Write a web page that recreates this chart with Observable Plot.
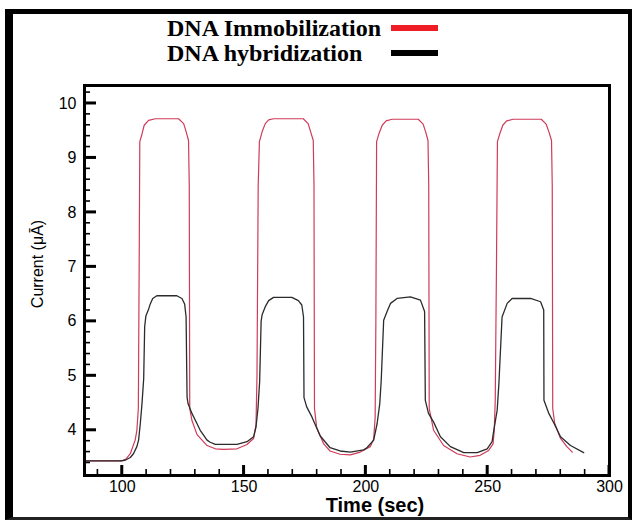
<!DOCTYPE html>
<html>
<head>
<meta charset="utf-8">
<script src="https://cdn.jsdelivr.net/npm/d3@7"></script>
<script src="https://cdn.jsdelivr.net/npm/@observablehq/plot@0.6"></script>
<style>
  html, body { margin: 0; padding: 0; background: #fff; }
  #wrap { position: relative; width: 633px; height: 524px; overflow: hidden; background: #fff; }
  #border { position: absolute; left: 5px; top: 9px; width: 627px; height: 511px; box-sizing: border-box; background: transparent; pointer-events: none;
            border-left: 8px solid #000; border-top: 5px solid #000; border-right: 4px solid #000; border-bottom: 3px solid #222; }
  #chart { position: absolute; left: 0; top: 0; }
  #legend { position: absolute; left: 167px; top: 16px; display: grid; grid-template-columns: auto 47px; column-gap: 10px;
            font-family: "Liberation Serif", "Times New Roman", serif; font-weight: bold; font-size: 24px; line-height: 25px; color: #000; }
  .bar { align-self: center; height: 6px; width: 47px; margin-top: -2px; }
  #ylab { position: absolute; left: 38px; top: 264px; transform: translate(-50%, -50%) rotate(-90deg); white-space: nowrap;
          font-family: "Liberation Sans", Arial, sans-serif; font-size: 16px; color: #000; }
  #xlab { position: absolute; left: 375px; top: 495px; transform: translateX(-50%); white-space: nowrap;
          font-family: "Liberation Sans", Arial, sans-serif; font-weight: bold; font-size: 20px; line-height: 20px; color: #000; }
</style>
</head>
<body>
<div id="wrap">
  <div id="chart"></div>
  <div id="border"></div>
  <div id="legend"></div>
  <div id="ylab">Current (μĀ)</div>
  <div id="xlab">Time (sec)</div>
</div>
<script>
// ---- Data ----
const seriesNames = ["DNA Immobilization", "DNA hybridization"];
const seriesColors = ["#cf3b58", "#2b2b2b"];
const legendColors = ["#ee1c25", "#000000"];

const immobTime = [85, 100.0, 101.5, 103.3, 105.3, 106.0, 106.6, 107.0, 107.2, 108.1, 109.0, 110.8, 113.6, 123.1, 125.2, 126.3, 127.2, 127.5, 127.7, 128.6, 130.7, 134.8, 138.2, 141.6, 147.1, 151.2, 153.9, 154.9, 155.3, 155.8, 156.3, 157.4, 158.7, 160.1, 162.1, 174.3, 176.3, 177.4, 178.4, 178.7, 178.9, 179.8, 182.7, 185.3, 189.4, 193.6, 197.7, 201.8, 203.2, 203.8, 204.1, 204.4, 205.4, 206.7, 208.3, 210.8, 221.5, 223.5, 224.6, 225.5, 225.8, 226.0, 227.8, 231.9, 237.4, 242.8, 246.9, 250.4, 252.2, 252.7, 253.1, 253.6, 254.0, 255.0, 256.2, 257.8, 260.4, 272.0, 274.0, 275.2, 276.2, 276.5, 276.7, 277.5, 279.9, 282.5, 284.7];
const immobCurrent = [3.44, 3.44, 3.47, 3.57, 3.82, 4.0, 4.4, 7.5, 9.3, 9.44, 9.6, 9.69, 9.72, 9.72, 9.63, 9.47, 9.32, 8.5, 4.4, 4.18, 3.92, 3.72, 3.66, 3.65, 3.66, 3.74, 3.85, 4.1, 5.0, 8.5, 9.3, 9.48, 9.63, 9.7, 9.72, 9.72, 9.63, 9.47, 9.32, 8.5, 4.4, 4.05, 3.75, 3.62, 3.56, 3.55, 3.6, 3.7, 3.84, 4.23, 6.0, 9.3, 9.45, 9.6, 9.68, 9.71, 9.71, 9.62, 9.47, 9.32, 8.5, 4.4, 4.0, 3.72, 3.57, 3.51, 3.54, 3.63, 3.75, 4.0, 4.55, 7.0, 9.3, 9.45, 9.6, 9.68, 9.71, 9.71, 9.62, 9.47, 9.32, 8.5, 4.4, 4.13, 3.85, 3.7, 3.6];

const hybridTime = [85, 99.2, 101.2, 103.3, 104.6, 106.0, 106.7, 107.4, 108.1, 108.8, 109.2, 109.7, 110.8, 111.5, 112.5, 114.2, 122.4, 124.5, 125.6, 126.2, 126.6, 127.0, 128.6, 130.7, 132.0, 134.8, 136.1, 138.2, 147.1, 151.2, 153.9, 154.9, 155.7, 156.4, 157.0, 157.4, 158.7, 160.1, 162.1, 169.6, 172.3, 173.7, 174.4, 174.6, 175.7, 177.8, 181.2, 185.3, 189.4, 193.6, 199.1, 200.4, 203.2, 204.6, 205.7, 206.3, 207.3, 208.7, 210.1, 212.8, 218.3, 222.4, 224.1, 224.4, 225.7, 227.8, 230.6, 234.7, 240.2, 245.7, 249.8, 251.8, 252.5, 253.9, 254.6, 255.9, 258.0, 260.0, 267.6, 271.7, 273.0, 273.1, 275.1, 277.2, 279.9, 284.0, 289.4];
const hybridCurrent = [3.44, 3.44, 3.45, 3.5, 3.57, 3.7, 3.82, 4.12, 4.49, 4.95, 5.9, 6.1, 6.22, 6.32, 6.42, 6.47, 6.47, 6.42, 6.32, 6.08, 4.61, 4.49, 4.31, 4.12, 4.0, 3.82, 3.78, 3.74, 3.74, 3.79, 3.88, 4.06, 4.4, 4.9, 6.0, 6.12, 6.27, 6.38, 6.44, 6.44, 6.38, 6.3, 6.08, 4.6, 4.43, 4.25, 3.9, 3.68, 3.62, 3.6, 3.64, 3.68, 3.82, 4.12, 4.49, 4.92, 6.02, 6.18, 6.33, 6.42, 6.45, 6.39, 6.18, 4.55, 4.31, 4.15, 3.88, 3.7, 3.59, 3.59, 3.66, 3.79, 4.0, 4.37, 4.86, 6.08, 6.33, 6.42, 6.42, 6.36, 6.21, 4.55, 4.31, 4.13, 3.88, 3.72, 3.59];

const xTicks = [100, 150, 200, 250, 300];
const xMinorTicks = [90, 110, 120, 130, 140, 160, 170, 180, 190, 210, 220, 230, 240, 260, 270, 280, 290];
const yTicks = [4, 5, 6, 7, 8, 9, 10];
const yMinorTicks = [3.4, 3.6, 3.8, 4.2, 4.4, 4.6, 4.8, 5.2, 5.4, 5.6, 5.8, 6.2, 6.4, 6.6, 6.8, 7.2, 7.4, 7.6, 7.8, 8.2, 8.4, 8.6, 8.8, 9.2, 9.4, 9.6, 9.8, 10.2];

// ---- Build tables ----
const immob = immobTime.map((t, i) => ({time: t, current: immobCurrent[i]}));
const hybrid = hybridTime.map((t, i) => ({time: t, current: hybridCurrent[i]}));

const W = 633, H = 524, mL = 84, mR = 24, mT = 85, mB = 49;
const frameW = W - mL - mR, frameH = H - mT - mB;
const xDomain = [84.5, 300], yDomain = [3.17, 10.33];
// tick sizes in data units, converted from pixels through the scale ratio
const pxToY = px => px * (yDomain[1] - yDomain[0]) / frameH;
const pxToX = px => px * (xDomain[1] - xDomain[0]) / frameW;

// inward tick marks drawn as small filled rectangles
const xTickRect = (ticks, len, w) => Plot.rect(ticks, {
  x1: d => d - pxToX(w / 2), x2: d => d + pxToX(w / 2),
  y1: yDomain[0], y2: yDomain[0] + pxToY(len), fill: "black"
});
const yTickRect = (ticks, len, w) => Plot.rect(ticks, {
  y1: d => d - pxToY(w / 2), y2: d => d + pxToY(w / 2),
  x1: xDomain[0], x2: xDomain[0] + pxToX(len), fill: "black"
});

const chart = Plot.plot({
  width: W,
  height: H,
  marginLeft: mL,
  marginRight: mR,
  marginTop: mT,
  marginBottom: mB,
  style: {fontFamily: "'Liberation Sans', Arial, sans-serif", fontSize: "16px", color: "#000", background: "transparent"},
  x: {domain: xDomain},
  y: {domain: yDomain},
  marks: [
    Plot.axisX(xTicks, {tickSize: 0, tickPadding: 5, label: null, fontSize: 16, tickFormat: d => String(d)}),
    Plot.axisY(yTicks, {tickSize: 0, tickPadding: 8, label: null, fontSize: 16, tickFormat: d => String(d)}),
    Plot.line(immob, {x: "time", y: "current", stroke: seriesColors[0], strokeWidth: 1.2}),
    Plot.line(hybrid, {x: "time", y: "current", stroke: seriesColors[1], strokeWidth: 1.3}),
    xTickRect(xMinorTicks, 6, 1.6),
    xTickRect(xTicks, 10, 3),
    yTickRect(yMinorTicks, 6, 1.6),
    yTickRect(yTicks, 12, 3),
    Plot.frame({stroke: "black", strokeWidth: 3})
  ]
});
document.getElementById("chart").appendChild(chart);

const legend = document.getElementById("legend");
seriesNames.forEach((name, i) => {
  const label = document.createElement("div");
  label.textContent = name;
  const bar = document.createElement("div");
  bar.className = "bar";
  bar.style.background = legendColors[i];
  legend.appendChild(label);
  legend.appendChild(bar);
});
</script>
</body>
</html>
